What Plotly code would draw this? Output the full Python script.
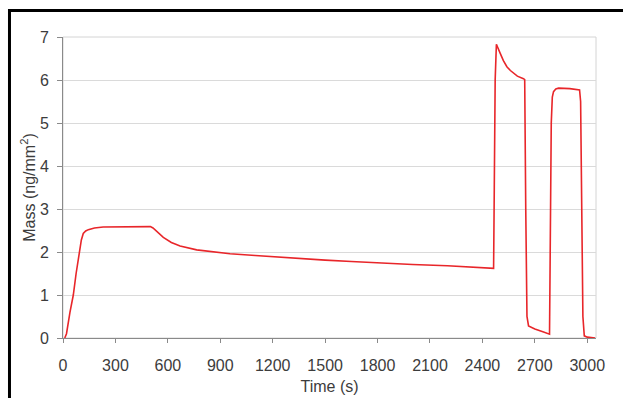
import plotly.graph_objects as go

# Time (s) and mass (ng/mm^2)
time_s = [10, 20, 40, 59, 75, 93, 105, 116, 130, 145, 180, 230, 350, 500,
          515, 540, 574, 620, 670, 765, 860, 956, 1100, 1200, 1350, 1500,
          1650, 1815, 2000, 2200, 2400, 2464, 2468, 2473, 2480, 2490, 2502,
          2520, 2540, 2560, 2578, 2600, 2635, 2642, 2648, 2655, 2664, 2700,
          2750, 2784, 2788, 2794, 2800, 2807, 2820, 2836, 2900, 2956, 2962,
          2968, 2975, 2983, 3000, 3045]
mass = [0.0, 0.1, 0.6, 1.0, 1.5, 2.0, 2.28, 2.43, 2.49, 2.52, 2.56, 2.58,
        2.59, 2.59, 2.56, 2.46, 2.34, 2.22, 2.14, 2.05, 2.00, 1.96, 1.92,
        1.89, 1.85, 1.81, 1.78, 1.74, 1.71, 1.68, 1.64, 1.62, 3.5, 6.0, 6.83,
        6.75, 6.62, 6.45, 6.31, 6.22, 6.16, 6.09, 6.03, 6.01, 3.0, 0.5, 0.28,
        0.21, 0.14, 0.09, 2.0, 5.0, 5.6, 5.73, 5.79, 5.81, 5.80, 5.77, 5.5,
        3.0, 0.5, 0.05, 0.02, 0.0]

x_ticks = [0, 300, 600, 900, 1200, 1500, 1800, 2100, 2400, 2700, 3000]
y_ticks = [0, 1, 2, 3, 4, 5, 6, 7]

font_color = "#3c3c3c"
axis_color = "#8a8a8a"
grid_color = "#dadada"

fig = go.Figure()
fig.add_trace(go.Scatter(x=time_s, y=mass, mode="lines",
                         line=dict(color="#e8262a", width=1.6),
                         hoverinfo="skip", showlegend=False))

fig.update_layout(
    width=623, height=398,
    margin=dict(l=63, r=27, t=37, b=60),
    paper_bgcolor="white", plot_bgcolor="white",
    font=dict(family="Liberation Sans, Arial, sans-serif", size=16, color=font_color),
    xaxis=dict(range=[0, 3050], tickvals=x_ticks, ticks="outside", ticklen=4,
               tickcolor=axis_color, showline=True, linecolor=axis_color,
               linewidth=1, showgrid=False, zeroline=False, automargin=False,
               ticklabelstandoff=9,
               title=dict(text="Time (s)", standoff=7, font=dict(size=16))),
    yaxis=dict(range=[0, 7], tickvals=y_ticks, ticks="outside", ticklen=5,
               tickcolor=axis_color, showline=True, linecolor=axis_color,
               linewidth=1, showgrid=True, gridcolor=grid_color, zeroline=False,
               automargin=False, ticklabelstandoff=5,
               title=dict(text="Mass (ng/mm<sup>2</sup>)", standoff=0,
                          font=dict(size=16))),
    shapes=[
        dict(type="rect", xref="paper", yref="paper", x0=0, x1=1, y0=0, y1=1,
             line=dict(color="#d4d4d4", width=1), layer="below"),
        dict(type="rect", xref="paper", yref="paper", x0=-0.1004, x1=1.2,
             y0=-0.4, y1=1.088, line=dict(color="black", width=3)),
    ],
)

fig.write_html(
    "out.html",
    config={"displayModeBar": False},
    post_script="document.body.style.margin='0';document.body.style.overflow='hidden';",
)
